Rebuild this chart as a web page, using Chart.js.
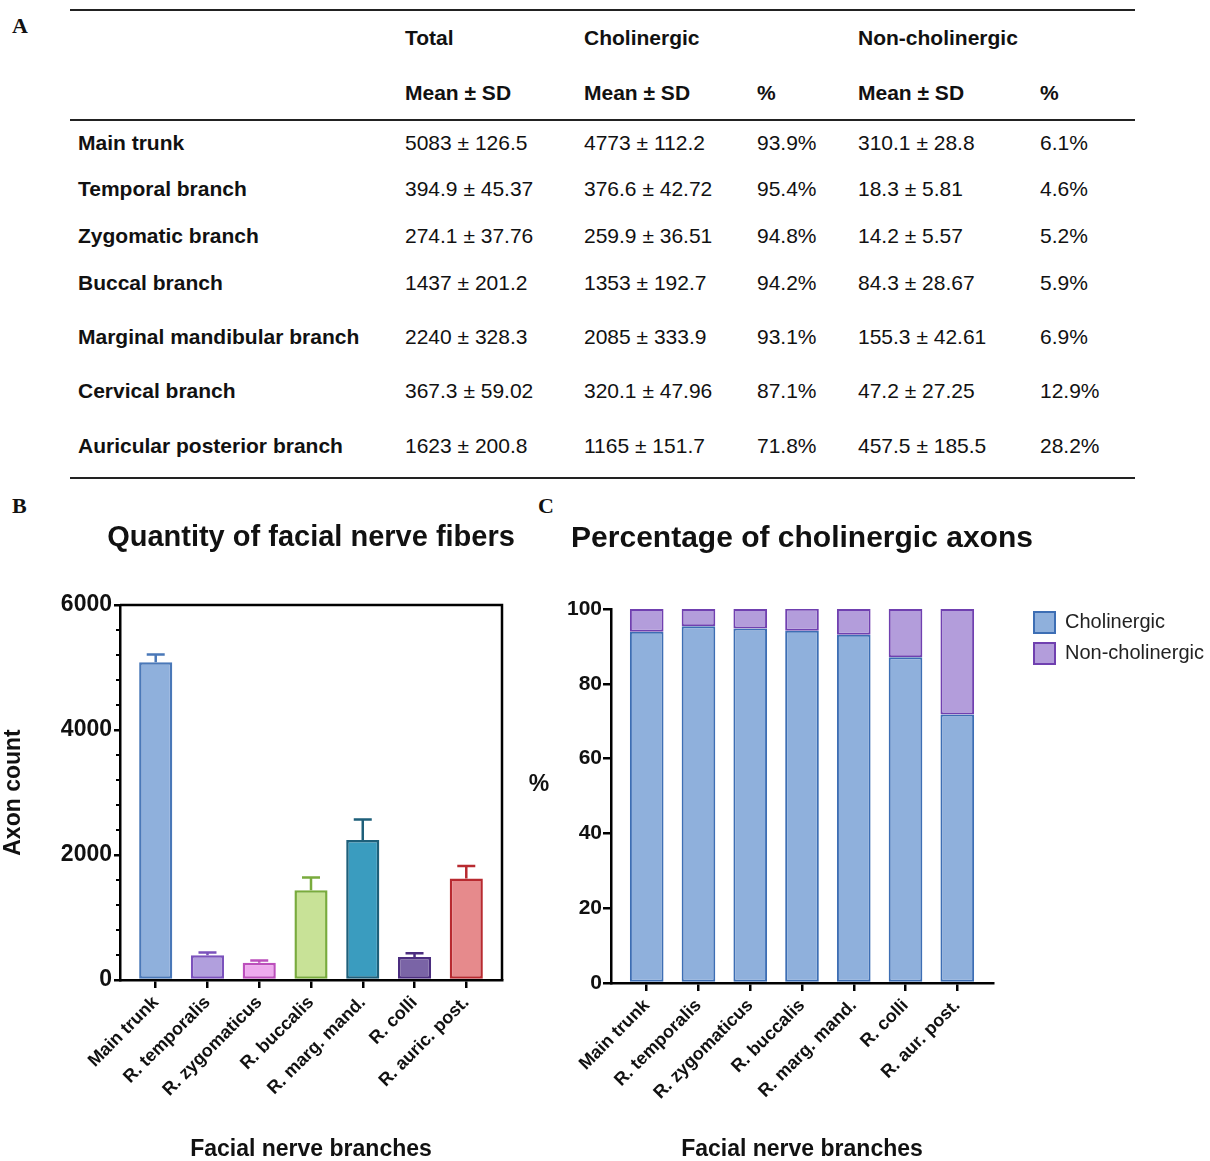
<!DOCTYPE html>
<html>
<head>
<meta charset="utf-8">
<title>Facial nerve fibers</title>
<script src="https://cdn.jsdelivr.net/npm/chart.js@4.4.1/dist/chart.umd.min.js"></script>
<style>
  body { margin: 0; background: #fff; }
  #page { position: relative; width: 1210px; height: 1161px; overflow: hidden;
          font-family: "Liberation Sans", Arial, sans-serif; color: #111; }
  .cell { position: absolute; font-size: 21px; line-height: 24px; white-space: nowrap; }
  .b { font-weight: bold; }
  .rule { position: absolute; left: 70px; width: 1065px; height: 2px; background: #222; }
  .panel { position: absolute; font-family: "Liberation Serif", "Times New Roman", serif;
           font-weight: bold; font-size: 22px; line-height: 26px; }
  #chartB { position: absolute; left: 0; top: 500px; }
  #chartC { position: absolute; left: 520px; top: 500px; }
</style>
</head>
<body>
<div id="page">
  <div class="panel" style="left:12px;top:13px">A</div>
  <div class="panel" style="left:12px;top:493px">B</div>
  <div class="panel" style="left:538px;top:493px">C</div>
  <div class="rule" style="top:9px"></div>
  <div class="rule" style="top:119px"></div>
  <div class="rule" style="top:477px"></div>
  <div id="table"></div>
  <canvas id="chartB" width="520" height="661"></canvas>
  <canvas id="chartC" width="690" height="661"></canvas>
</div>
<script>
// table rows
const branches = ["Main trunk", "Temporal branch", "Zygomatic branch", "Buccal  branch",
  "Marginal mandibular branch", "Cervical branch", "Auricular posterior branch"];
const totalMean = [5083, 394.9, 274.1, 1437, 2240, 367.3, 1623];
const totalSD = [126.5, 45.37, 37.76, 201.2, 328.3, 59.02, 200.8];
const cholMean = [4773, 376.6, 259.9, 1353, 2085, 320.1, 1165];
const cholSD = [112.2, 42.72, 36.51, 192.7, 333.9, 47.96, 151.7];
const cholPct = [93.9, 95.4, 94.8, 94.2, 93.1, 87.1, 71.8];
const nonMean = [310.1, 18.3, 14.2, 84.3, 155.3, 47.2, 457.5];
const nonSD = [28.8, 5.81, 5.57, 28.67, 42.61, 27.25, 185.5];
const nonPct = [6.1, 4.6, 5.2, 5.9, 6.9, 12.9, 28.2];

// chart categories
const fiberLabels = ["Main trunk", "R. temporalis", "R. zygomaticus", "R. buccalis",
  "R. marg. mand.", "R. colli", "R. auric. post."];
const pctLabels = ["Main trunk", "R. temporalis", "R. zygomaticus", "R. buccalis",
  "R. marg. mand.", "R. colli", "R. aur. post."];
const countTicks = [0, 2000, 4000, 6000];
const pctTicks = [0, 20, 40, 60, 80, 100];

const fiberFill = ["#8fb0dc", "#b19fdd", "#eeaaee", "#c8e297", "#3a9cbf", "#7a64a6", "#e68a8c"];
const fiberLine = ["#4a78b8", "#7b52bc", "#bc4fbc", "#79ab3d", "#1e5f7a", "#4b2d7f", "#b82a30"];

// ---- table A ----
const colX = [78, 405, 584, 757, 858, 1040];
const rowY = [143, 189, 236, 283, 337, 391, 446];
const table = document.getElementById("table");
function cell(text, x, y, bold) {
  const d = document.createElement("div");
  d.className = bold ? "cell b" : "cell";
  d.style.left = x + "px";
  d.style.top = (y - 12) + "px";
  d.textContent = text;
  table.appendChild(d);
}
cell("Total", colX[1], 38, true);
cell("Cholinergic", colX[2], 38, true);
cell("Non-cholinergic", colX[4], 38, true);
cell("Mean \u00b1 SD", colX[1], 93, true);
cell("Mean \u00b1 SD", colX[2], 93, true);
cell("%", colX[3], 93, true);
cell("Mean \u00b1 SD", colX[4], 93, true);
cell("%", colX[5], 93, true);
branches.forEach((b, i) => {
  cell(b, colX[0], rowY[i], true);
  cell(totalMean[i] + " \u00b1 " + totalSD[i], colX[1], rowY[i]);
  cell(cholMean[i] + " \u00b1 " + cholSD[i], colX[2], rowY[i]);
  cell(cholPct[i] + "%", colX[3], rowY[i]);
  cell(nonMean[i] + " \u00b1 " + nonSD[i], colX[4], rowY[i]);
  cell(nonPct[i] + "%", colX[5], rowY[i]);
});

// ---- charts ----
const FONT = '"Liberation Sans", Arial, sans-serif';
Chart.defaults.font.family = FONT;
Chart.defaults.color = "#111";

const bold = size => ({ size: size, weight: "bold" });

// panel title over the plot (Chart.js' own title squeezes text to the plot width)
// plus an optional upright y label
const panelTitle = {
  id: "panelTitle",
  afterDraw(chart, args, opts) {
    const { ctx, chartArea: a } = chart;
    ctx.save();
    ctx.fillStyle = "#111";
    ctx.textAlign = "center";
    ctx.textBaseline = "middle";
    ctx.font = "bold " + opts.size + "px " + FONT;
    ctx.fillText(opts.text, (a.left + a.right) / 2, opts.y);
    if (opts.yLabel) {
      ctx.font = "bold 23px " + FONT;
      ctx.fillText(opts.yLabel, opts.yLabelX, (a.top + a.bottom) / 2 - 11);
    }
    ctx.restore();
  }
};

// frame on top/right and minor ticks on the count axis
const frameB = {
  id: "frameB",
  afterDraw(chart) {
    const { ctx, chartArea: a } = chart;
    const y = chart.scales.y;
    ctx.save();
    ctx.strokeStyle = "#000";
    ctx.lineWidth = 2.5;
    ctx.beginPath();
    ctx.moveTo(a.left, a.top);
    ctx.lineTo(a.right, a.top);
    ctx.lineTo(a.right, a.bottom);
    ctx.stroke();
    ctx.lineWidth = 2;
    ctx.beginPath();
    for (let v = 0; v <= countTicks[countTicks.length - 1]; v += 400) {
      const py = y.getPixelForValue(v);
      ctx.moveTo(a.left - 4, py);
      ctx.lineTo(a.left, py);
    }
    ctx.stroke();
    ctx.restore();
  }
};

const errorBars = {
  id: "errorBars",
  afterDatasetsDraw(chart) {
    const { ctx, scales: { x, y } } = chart;
    ctx.save();
    ctx.lineWidth = 2.5;
    totalMean.forEach((m, i) => {
      const px = x.getPixelForValue(i);
      const top = y.getPixelForValue(m);
      const tip = y.getPixelForValue(m + totalSD[i]);
      ctx.strokeStyle = fiberLine[i];
      ctx.beginPath();
      ctx.moveTo(px, top);
      ctx.lineTo(px, tip);
      ctx.moveTo(px - 9, tip);
      ctx.lineTo(px + 9, tip);
      ctx.stroke();
    });
    ctx.restore();
  }
};

// x axis as linear so that the categories sit a bit further in than Chart.js' default offset
function categoryAxis(labels, height, title) {
  return {
    type: "linear", min: -0.69, max: 6.69, bounds: "data", offset: false, stacked: true,
    afterBuildTicks: s => { s.ticks = labels.map((_, i) => ({ value: i })); },
    afterFit: s => { s.height = height; },
    ticks: { callback: v => labels[v], autoSkip: false, minRotation: 45, maxRotation: 45,
             font: bold(18), color: "#111", padding: 4 },
    grid: { drawOnChartArea: false, offset: false, tickLength: 8, color: "#000", lineWidth: 2.5 },
    border: { color: "#000", width: 2.5 },
    title: { display: true, text: title, font: { size: 23, weight: "bold", lineHeight: 1 },
             color: "#111", padding: 0 }
  };
}

new Chart(document.getElementById("chartB"), {
  type: "bar",
  data: {
    datasets: [{
      data: totalMean.map((v, i) => ({ x: i, y: v })),
      backgroundColor: fiberFill,
      borderColor: fiberLine,
      borderWidth: 2.5,
      borderSkipped: false,
      barPercentage: 0.64,
      categoryPercentage: 1
    }]
  },
  options: {
    responsive: false, animation: false, events: [],
    layout: { padding: { top: 105, right: 18 } },
    plugins: {
      legend: { display: false },
      tooltip: { enabled: false },
      panelTitle: { text: "Quantity of facial nerve fibers", size: 29, y: 38 }
    },
    scales: {
      x: categoryAxis(fiberLabels, 181, "Facial nerve branches"),
      y: {
        min: countTicks[0], max: countTicks[countTicks.length - 1],
        afterBuildTicks: s => { s.ticks = countTicks.map(v => ({ value: v })); },
        afterFit: s => { s.width = 120; },
        ticks: { callback: v => String(v), font: bold(23), color: "#111", padding: 2 },
        grid: { drawOnChartArea: false, tickLength: 6, color: "#000", lineWidth: 2.5 },
        border: { color: "#000", width: 2.5 },
        title: { display: true, text: "Axon count", font: bold(23), color: "#111", padding: 0 }
      }
    }
  },
  plugins: [frameB, errorBars, panelTitle]
});

// legend sits a little above the top of the plot area
const legendNudge = {
  id: "legendNudge",
  afterLayout(chart) { chart.legend.top -= 7; chart.legend.bottom -= 7; }
};

new Chart(document.getElementById("chartC"), {
  type: "bar",
  data: {
    datasets: [{
      label: "Cholinergic",
      data: cholPct.map((v, i) => ({ x: i, y: v })),
      backgroundColor: "#8fb0dc",
      borderColor: "#3d6eb4",
      borderWidth: 2,
      borderSkipped: false,
      barPercentage: 0.65,
      categoryPercentage: 1,
      yAxisID: "y"
    }, {
      label: "Non-cholinergic",
      data: nonPct.map((v, i) => ({ x: i, y: v })),
      backgroundColor: "#b39ddb",
      borderColor: "#7040b0",
      borderWidth: 2,
      borderSkipped: false,
      barPercentage: 0.65,
      categoryPercentage: 1,
      yAxisID: "y"
    }]
  },
  options: {
    responsive: false, animation: false, events: [],
    layout: { padding: { top: 109 } },
    plugins: {
      tooltip: { enabled: false },
      panelTitle: { text: "Percentage of cholinergic axons", size: 30, y: 39,
                    yLabel: "%", yLabelX: 19 },
      legend: {
        position: "right", align: "start", fullSize: false, maxWidth: 186,
        labels: { boxWidth: 21, boxHeight: 21, padding: 10, color: "#222", font: { size: 20 } }
      }
    },
    scales: {
      x: categoryAxis(pctLabels, 178, "Facial nerve branches"),
      y: {
        stacked: true, min: pctTicks[0], max: pctTicks[pctTicks.length - 1],
        afterBuildTicks: s => { s.ticks = pctTicks.map(v => ({ value: v })); },
        afterFit: s => { s.width = 91; },
        ticks: { font: bold(21), color: "#111", padding: 1 },
        grid: { drawOnChartArea: false, tickLength: 8, color: "#000", lineWidth: 2.5 },
        border: { color: "#000", width: 2.5 }
      },
      // empty gap between the plot and the legend
      pad: {
        position: "right", display: true,
        ticks: { display: false }, grid: { display: false }, border: { display: false },
        afterFit: s => { s.width = 31; }
      }
    }
  },
  plugins: [legendNudge, panelTitle]
});
</script>
</body>
</html>
